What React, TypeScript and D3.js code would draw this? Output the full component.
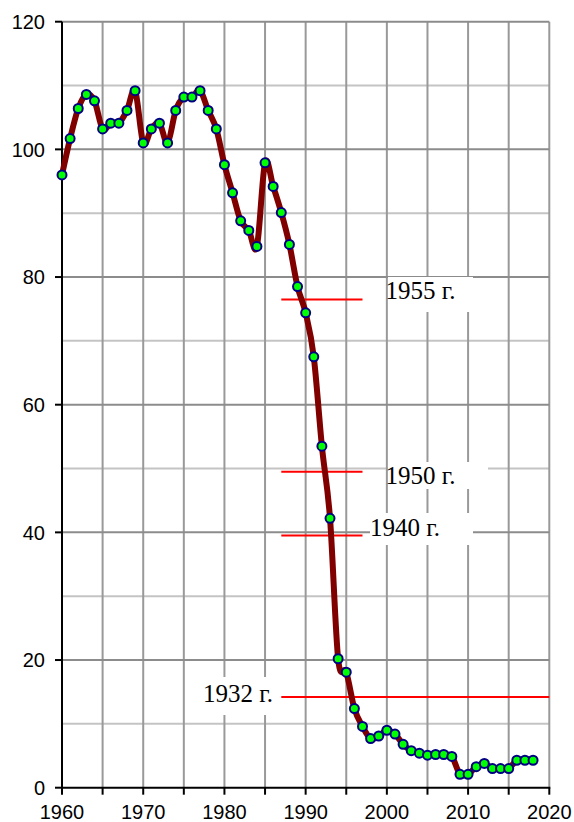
import React from "react";
import * as d3 from "d3";

const years = [
  1960, 1961, 1962, 1963, 1964, 1965, 1966, 1967, 1968, 1969,
  1970, 1971, 1972, 1973, 1974, 1975, 1976, 1977, 1978, 1979,
  1980, 1981, 1982, 1983, 1984, 1985, 1986, 1987, 1988, 1989,
  1990, 1991, 1992, 1993, 1994, 1995, 1996, 1997, 1998, 1999,
  2000, 2001, 2002, 2003, 2004, 2005, 2006, 2007, 2008, 2009,
  2010, 2011, 2012, 2013, 2014, 2015, 2016, 2017, 2018,
];
const values = [
  96.0, 101.7, 106.4, 108.6, 107.6, 103.2, 104.1, 104.1, 106.1, 109.2,
  101.0, 103.2, 104.1, 101.0, 106.1, 108.2, 108.2, 109.2, 106.1, 103.2,
  97.6, 93.2, 88.8, 87.3, 84.8, 97.9, 94.2, 90.1, 85.1, 78.5,
  74.4, 67.5, 53.5, 42.2, 20.2, 18.1, 12.4, 9.6, 7.7, 8.1,
  9.0, 8.4, 6.8, 5.8, 5.4, 5.1, 5.2, 5.2, 4.9, 2.1,
  2.1, 3.3, 3.8, 3.0, 3.0, 3.0, 4.3, 4.3, 4.3,
];

const xLabelTicks = [1960, 1970, 1980, 1990, 2000, 2010, 2020];
const xGridTicks = [1960, 1965, 1970, 1975, 1980, 1985, 1990, 1995, 2000, 2005, 2010, 2015, 2020];
const yMajorTicks = [0, 20, 40, 60, 80, 100, 120];
const yMinorTicks = [10, 30, 50, 70, 90, 110];

const refLabels = ["1955 г.", "1950 г.", "1940 г.", "1932 г."];
const refValues = [76.5, 49.5, 39.5, 14.2];
const refStartYears = [1987, 1987, 1987, 1987];
const refEndYears = [1997, 1997, 1997, 2020];

// label boxes layout (pixels): [boxX, boxY, boxW, boxH, textX, baselineY]
const labelLayout = [
  [388, 277, 85, 35, 385.5, 299],
  [388, 462, 100, 27, 385.5, 484],
  [370, 513, 103, 32, 370, 536],
  [200, 677, 78, 38, 203, 701.5],
];

export default function App() {
  const W = 574;
  const H = 822;
  const x = d3.scaleLinear().domain([1960, 2020]).range([62, 549.3]);
  const y = d3.scaleLinear().domain([0, 120]).range([787.7, 21.7]);

  const pts: [number, number][] = years.map((yr, i) => [x(yr), y(values[i])]);
  const line = d3.line().curve(d3.curveCardinal.tension(0));
  const pathD = line(pts) || "";

  const x0 = x(1960);
  const x1 = x(2020);
  const y0 = y(0);
  const yTop = y(120);

  return (
    <svg
      width={W}
      height={H}
      style={{ position: "absolute", left: 0, top: 0, background: "#fff" }}
    >
      <rect x={0} y={0} width={W} height={H} fill="#fff" />
      {yMinorTicks.map((t) => (
        <line key={"mn" + t} x1={x0} x2={x1} y1={y(t)} y2={y(t)} stroke="#c4c4c4" strokeWidth={2} />
      ))}
      {xGridTicks.slice(1).map((t) => (
        <line key={"vg" + t} x1={x(t)} x2={x(t)} y1={yTop} y2={y0} stroke="#999" strokeWidth={2} />
      ))}
      {yMajorTicks.slice(1).map((t) => (
        <line key={"mj" + t} x1={x0} x2={x1} y1={y(t)} y2={y(t)} stroke="#8c8c8c" strokeWidth={2} />
      ))}

      {refValues.map((v, i) => (
        <line
          key={"ref" + i}
          x1={x(refStartYears[i])}
          x2={x(refEndYears[i])}
          y1={y(v)}
          y2={y(v)}
          stroke="#ff0000"
          strokeWidth={2}
        />
      ))}

      {refLabels.map((lab, i) => {
        const [bx, by, bw, bh, tx, ty] = labelLayout[i];
        return (
          <g key={"lab" + i}>
            <rect x={bx} y={by} width={bw} height={bh} fill="#fff" />
            <text
              x={tx}
              y={ty}
              fontFamily="'Times New Roman', 'Liberation Serif', serif"
              fontSize={25}
              fill="#000"
            >
              {lab}
            </text>
          </g>
        );
      })}

      <line x1={x0} x2={x0} y1={yTop} y2={y0 + 1} stroke="#000" strokeWidth={2} />
      <line x1={x0} x2={x1 + 1} y1={y0} y2={y0} stroke="#000" strokeWidth={2} />
      {yMajorTicks.map((t) => (
        <g key={"yt" + t}>
          <line x1={x0 - 7} x2={x0} y1={y(t)} y2={y(t)} stroke="#000" strokeWidth={2} />
          <text
            x={45}
            y={y(t)}
            dy="0.36em"
            textAnchor="end"
            fontFamily="Arial, 'Liberation Sans', sans-serif"
            fontSize={20}
            fill="#000"
          >
            {t}
          </text>
        </g>
      ))}
      {xGridTicks.map((t) => (
        <line key={"xt" + t} x1={x(t)} x2={x(t)} y1={y0} y2={y0 + 7} stroke="#000" strokeWidth={2} />
      ))}
      {xLabelTicks.map((t) => (
        <text
          key={"xl" + t}
          x={x(t)}
          y={819}
          textAnchor="middle"
          fontFamily="Arial, 'Liberation Sans', sans-serif"
          fontSize={20}
          fill="#000"
        >
          {t}
        </text>
      ))}

      <path d={pathD} fill="none" stroke="#800000" strokeWidth={6} strokeLinejoin="round" strokeLinecap="round" />
      {pts.map((p, i) => (
        <circle key={"pt" + i} cx={p[0]} cy={p[1]} r={4.5} fill="#00ff00" stroke="#000080" strokeWidth={2} />
      ))}
    </svg>
  );
}
